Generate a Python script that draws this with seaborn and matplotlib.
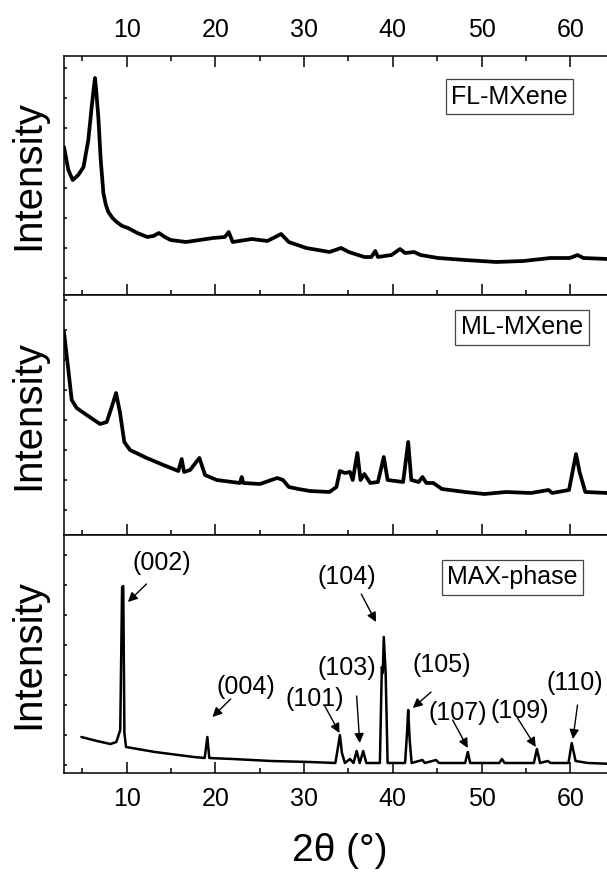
import numpy as np
import pandas as pd
import matplotlib
matplotlib.use('Agg')
import matplotlib.pyplot as plt
import seaborn as sns
from matplotlib.ticker import MultipleLocator

# FL-MXene (2theta, intensity a.u.)
fl_x = [2.93, 3.42, 3.91, 4.54, 5.13, 5.67, 6.05, 6.30, 6.43, 6.60, 6.80, 7.07, 7.37, 7.65,
        7.93, 8.40, 8.87, 9.50, 10.14, 11.2, 12.32, 13.0, 13.63, 14.3, 14.94, 16.69, 19.75,
        21.06, 21.50, 21.94, 24.12, 25.86, 26.74, 27.40, 28.27, 30.24, 32.86, 34.17, 35.04,
        36.79, 37.58, 38.02, 38.32, 39.85, 40.81, 41.38, 42.39, 43.12, 45.10, 48.15, 51.65,
        54.71, 57.77, 59.95, 60.82, 61.48, 64.2, 65.0]
fl_y = [148, 125, 115, 120, 128, 155, 188, 208, 217, 200, 178, 135, 102, 90,
        83, 77, 73, 69, 67, 62, 58, 59, 62, 58, 55, 53, 57,
        58, 63, 53, 56, 54, 58, 61, 53, 47, 43, 47, 43,
        38, 38, 44, 38, 40, 46, 42, 43, 40, 37, 35, 33,
        34, 37, 37, 40, 37, 36, 36]

# ML-MXene
ml_x = [2.93, 3.42, 3.80, 4.36, 5.49, 6.99, 7.75, 8.31, 8.80, 9.25, 9.73, 10.37, 12.25,
        14.13, 15.82, 16.20, 16.46, 17.14, 18.19, 18.83, 20.14, 22.77, 22.96, 23.15, 25.03,
        26.96, 27.62, 28.27, 29.36, 30.67, 32.86, 33.64, 34.03, 34.61, 35.17, 35.48, 36.00,
        36.36, 36.79, 37.45, 38.32, 38.98, 39.41, 41.16, 41.73, 42.08, 42.91, 43.34, 43.78,
        44.57, 45.53, 48.15, 50.33, 52.74, 55.58, 57.54, 57.98, 59.86, 60.30, 60.65, 61.05,
        61.70, 64.2, 65.0]
ml_y = [203, 165, 135, 127, 120, 111, 113, 128, 142, 122, 93, 85, 77,
        70, 64, 76, 63, 65, 77, 60, 55, 52, 58, 52, 51,
        57, 55, 48, 46, 44, 43, 48, 64, 62, 63, 55, 82,
        55, 61, 52, 53, 78, 55, 53, 93, 55, 53, 58, 52,
        52, 46, 43, 41, 43, 42, 45, 42, 45, 65, 81, 63,
        43, 42, 42]

# MAX-phase
max_x = [4.89, 6.64, 8.17, 8.83, 9.27, 9.48, 9.61, 9.74, 9.92, 13.19, 17.56, 18.79, 19.09,
         19.31, 21.94, 26.31, 30.67, 33.52, 33.82, 34.03, 34.26, 34.60, 35.17, 35.57, 35.92,
         36.27, 36.66, 37.01, 38.54, 38.76, 38.87, 38.98, 39.19, 39.41, 41.38, 41.60, 41.73,
         41.90, 42.12, 43.34, 43.6, 44.87, 45.2, 48.15, 48.45, 48.72, 52.0, 52.3, 52.6, 55.9,
         56.24, 56.6, 57.46, 57.8, 59.8, 60.17, 60.6, 62.0, 65.0]
max_y = [36, 32, 29, 31, 43, 186, 187, 40, 26, 21, 16, 15, 36,
         15, 14, 12, 11, 10, 26, 38, 20, 10, 14, 10, 22,
         10, 22, 10, 10, 106, 100, 136, 100, 10, 10, 40, 63,
         33, 10, 13, 10, 13, 10, 10, 21, 10, 10, 14, 10, 10,
         24, 10, 12, 10, 10, 30, 12, 10, 9]

# peak labels: text, text pos (2theta, I), arrow tail, arrow head
hkl = ['(002)', '(004)', '(101)', '(103)', '(104)', '(105)', '(107)', '(109)', '(110)']
hkl_txt = [(14.0, 210), (23.45, 86), (31.2, 74), (34.83, 105), (34.83, 196), (45.53, 108),
           (47.36, 60), (54.36, 62), (60.47, 90)]
hkl_tail = [(12.23, 189), (21.72, 74), (32.33, 67), (35.92, 77), (36.44, 179), (44.31, 81),
            (46.74, 53), (54.05, 55), (60.82, 68)]
hkl_head = [(10.14, 171), (19.66, 56), (33.99, 40), (36.27, 30), (38.10, 151), (42.25, 65),
            (48.45, 25), (56.12, 26), (60.30, 34)]

names = ['FL-MXene', 'ML-MXene', 'MAX-phase']
name_pos = [(53.15, 198.5), (54.56, 208), (53.5, 196)]

sns.set_theme(style='ticks')
plt.rcParams['font.family'] = ['Liberation Sans', 'DejaVu Sans']
plt.rcParams['axes.linewidth'] = 1.1
for k in ['text.color', 'axes.labelcolor', 'axes.edgecolor', 'xtick.color', 'ytick.color']:
    plt.rcParams[k] = 'black'

fig, axes = plt.subplots(3, 1, sharex=True, figsize=(6.07, 8.73), dpi=100,
                         gridspec_kw=dict(height_ratios=[239, 240, 238], hspace=0))
fig.subplots_adjust(left=64/607, right=614.6/607, top=1-56/873, bottom=1-773/873)

data = [(fl_x, fl_y, 2.7), (ml_x, ml_y, 2.7), (max_x, max_y, 1.8)]
heights = [239, 240, 238]
offsets = [17, 25, 8]

for i, ax in enumerate(axes):
    x, y, lw = data[i]
    df = pd.DataFrame({'2theta': x, 'I': y})
    sns.lineplot(data=df, x='2theta', y='I', ax=ax, color='black', lw=lw,
                 sort=False, estimator=None)
    ax.set_xlim(2.93, 65)
    ax.set_ylim(0, heights[i])
    ax.set_ylabel('Intensity', fontsize=29, labelpad=9)
    ax.set_xlabel('')
    ax.set_yticks([])
    ax.yaxis.set_minor_locator(MultipleLocator(30, offset=offsets[i]))
    ax.tick_params(axis='y', which='minor', direction='in', length=1.8, width=1.1, left=True)
    ax.xaxis.set_major_locator(MultipleLocator(10))
    ax.xaxis.set_minor_locator(MultipleLocator(5))
    ax.tick_params(axis='x', which='major', direction='in', length=7.7, width=1.1,
                   labelsize=18, pad=10)
    ax.tick_params(axis='x', which='minor', direction='in', length=3.6, width=1.1)
    ax.text(name_pos[i][0], name_pos[i][1], names[i], fontsize=18, ha='center', va='center',
            bbox=dict(boxstyle='square,pad=0.22', fc='white', ec='#444444', lw=0.9))

axes[0].tick_params(axis='x', which='both', top=True, bottom=True, labeltop=True, labelbottom=False)
axes[1].tick_params(axis='x', which='both', top=False, bottom=True, labelbottom=False)
axes[2].tick_params(axis='x', which='both', top=False, bottom=True, labelbottom=True)
axes[2].set_xlabel('2θ (°)', fontsize=28, labelpad=16)

for lab, t, a, h in zip(hkl, hkl_txt, hkl_tail, hkl_head):
    axes[2].text(t[0], t[1], lab, fontsize=18, ha='center', va='center')
    axes[2].annotate('', xy=h, xytext=a,
                     arrowprops=dict(arrowstyle='-|>', color='black', lw=1.0,
                                     mutation_scale=14, shrinkA=0, shrinkB=0))

plt.savefig('out.png', dpi=100)
